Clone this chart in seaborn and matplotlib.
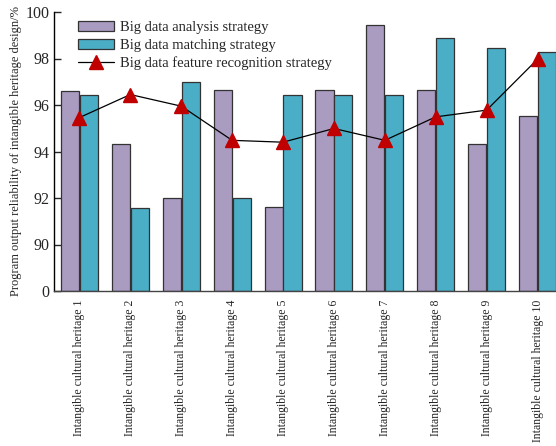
import numpy as np
import pandas as pd
import matplotlib
matplotlib.use("Agg")
import matplotlib.pyplot as plt
import seaborn as sns

categories = [f"Intangible cultural heritage {i}" for i in range(1, 11)]
analysis = [96.62, 94.31, 92.0, 96.64, 91.6, 96.64, 99.44, 96.64, 94.31, 95.53]
matching = [96.41, 91.57, 97.0, 92.0, 96.41, 96.41, 96.41, 98.9, 98.46, 98.28]
recognition = [95.46, 96.45, 95.95, 94.48, 94.4, 94.99, 94.48, 95.49, 95.78, 97.97]
series_names = ["Big data analysis strategy", "Big data matching strategy",
                "Big data feature recognition strategy"]
yticks = [0, 90, 92, 94, 96, 98, 100]

sns.set_style("white")
plt.rcParams['font.family'] = ['Liberation Serif', 'DejaVu Serif']

df = pd.DataFrame({
    "cat": categories * 2,
    "val": analysis + matching,
    "series": [series_names[0]] * 10 + [series_names[1]] * 10,
})

fig = plt.figure(figsize=(5.56, 4.46), dpi=100)
ax = fig.add_axes([54 / 556, 1 - 291 / 446, (563 - 54) / 556, (291 - 12) / 446])


def fwd(v):
    v = np.asarray(v, dtype=float)
    return np.where(v >= 90, v - 88, v / 45.0)


def inv(p):
    p = np.asarray(p, dtype=float)
    return np.where(p >= 2, p + 88, p * 45.0)


ax.set_yscale('function', functions=(fwd, inv))

sns.barplot(data=df, x="cat", y="val", hue="series", ax=ax,
            palette=["#AA9BC1", "#4BAEC7"], width=0.74, gap=0.04,
            edgecolor="#333333", linewidth=0.9, saturation=1)

ax.plot(np.arange(len(categories)), recognition, color="black", lw=0.9,
        marker="^", markersize=10, markerfacecolor="#C00000",
        markeredgecolor="#C00000", label=series_names[2])

ax.set_ylim(0, 100)
ax.set_xlim(-0.5, 9.5)
ax.set_yticks(yticks)
ax.set_yticklabels([str(t) for t in yticks], fontsize=11.5)
ax.set_xticks(np.arange(len(categories)))
ax.set_xticklabels(categories, rotation=90, fontsize=8.5, va="top")
ax.set_xticks(np.arange(len(categories) - 1) + 0.5, minor=True)
ax.tick_params(axis="x", which="major", length=0, pad=6)
ax.tick_params(axis="x", which="minor", direction="in", length=5, width=0.9,
               color="#444444")
ax.tick_params(axis="y", direction="in", length=5, width=1, left=True, pad=3)
ax.set_xlabel("")
ax.set_ylabel("Program output reliability of intangible heritage design/%",
              fontsize=9.0, labelpad=3)

for s in ["top", "right"]:
    ax.spines[s].set_visible(False)
ax.spines["left"].set_color("black")
ax.spines["bottom"].set_color("#444444")
ax.spines["left"].set_linewidth(1)
ax.spines["bottom"].set_linewidth(1)

h, l = ax.get_legend_handles_labels()
order = [l.index(n) for n in series_names]
ax.legend([h[i] for i in order], [l[i] for i in order], loc="upper left",
          bbox_to_anchor=(0.03, 1.0), frameon=False, fontsize=10.5,
          handlelength=2.5, handleheight=0.75, labelspacing=0.3,
          handletextpad=0.35, borderaxespad=0.2)

fig.savefig("out.png", dpi=100)
